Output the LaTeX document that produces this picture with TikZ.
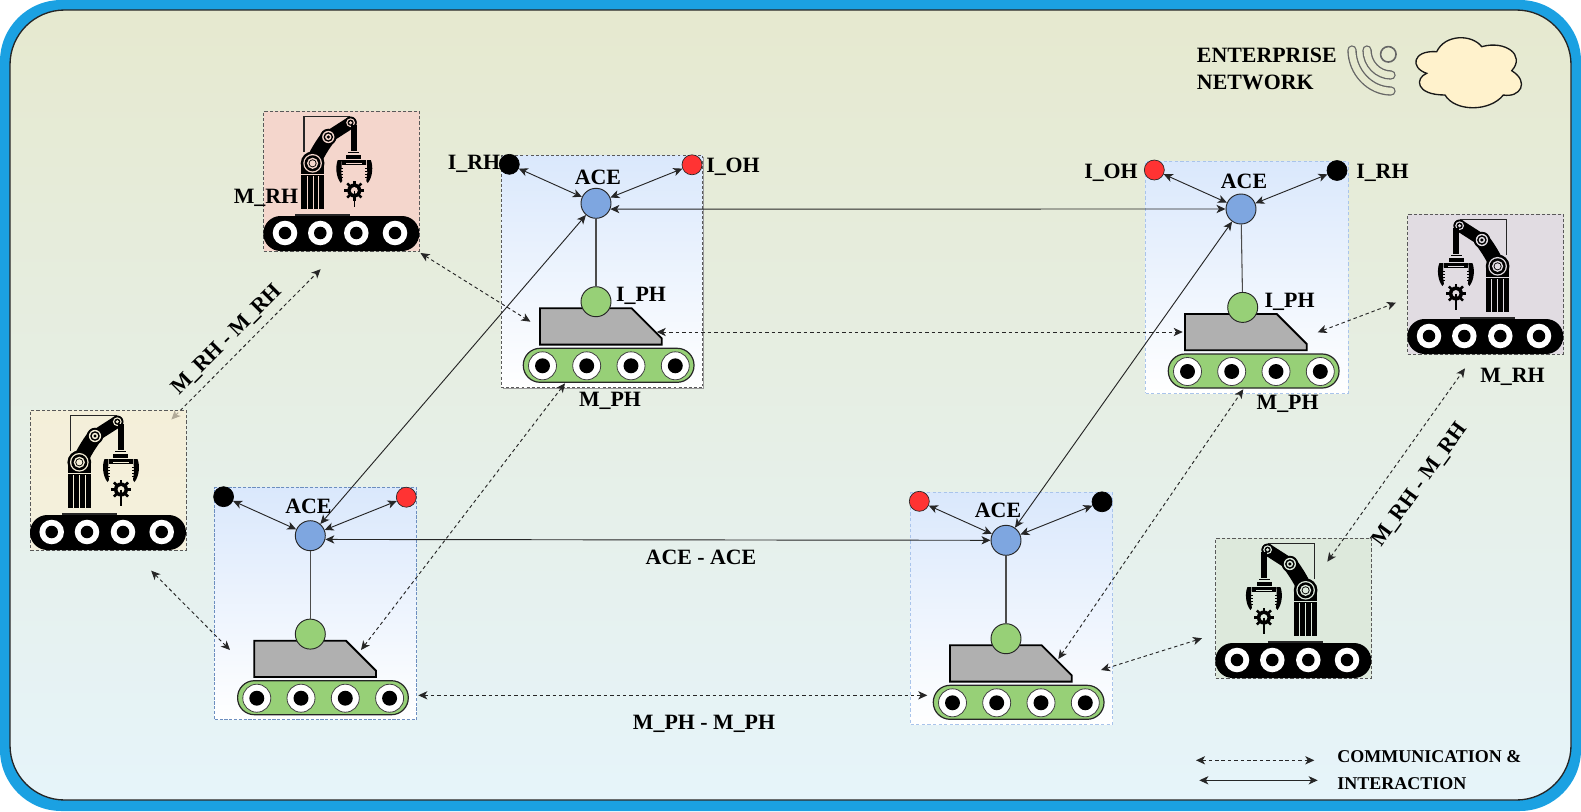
\documentclass[tikz,border=0pt]{standalone}
\usepackage{fontspec}
\setmainfont{Liberation Serif}
\usetikzlibrary{arrows.meta,calc}
\definecolor{acefill}{HTML}{7EA6E0}
\definecolor{redfill}{HTML}{FF3333}
\definecolor{greenfill}{HTML}{97D077}
\definecolor{bodyfill}{HTML}{B0B0B0}
\definecolor{skyblue}{HTML}{1BA1E2}
\definecolor{bgtop}{HTML}{E6E9CF}
\definecolor{bgbot}{HTML}{E6F4FA}
\definecolor{cellblue}{HTML}{DAE8FC}
\definecolor{cloudfill}{HTML}{FFF2CC}
\definecolor{dashblue}{HTML}{A9C4EB}
\definecolor{dashsteel}{HTML}{6C8EBF}
\tikzset{
  lbl/.style={font=\fontsize{16.4}{18}\selectfont\bfseries,inner sep=0pt,text=black},
  leg/.style={font=\fontsize{13.5}{15}\selectfont\bfseries,inner sep=0pt,anchor=base west},
  aceball/.style={circle,draw=black!85,line width=.7pt,fill=acefill,minimum size=22.5pt,inner sep=0pt},
  greenball/.style={circle,draw=black!85,line width=.7pt,fill=greenfill,minimum size=22.5pt,inner sep=0pt},
  blackball/.style={circle,draw=black,fill=black,line width=.5pt,minimum size=15pt,inner sep=0pt},
  redball/.style={circle,draw=black!85,fill=redfill,line width=.5pt,minimum size=15pt,inner sep=0pt},
  cellbox/.style={rectangle,anchor=north west,inner sep=0pt,top color=cellblue,bottom color=white},
  robotbox/.style={rectangle,anchor=north west,inner sep=0pt,minimum width=117pt,minimum height=105pt,draw=black!65,line width=.6pt,dash pattern=on 2.5pt off 1.5pt},
  tipstyle/.style={{Stealth[length=6.8pt,width=6.2pt,inset=1.9pt]}-{Stealth[length=6.8pt,width=6.2pt,inset=1.9pt]}},
  solidlink/.style={tipstyle,draw=black!85,line width=.7pt},
  dashlink/.style={tipstyle,draw=black!85,line width=.7pt,dash pattern=on 2.6pt off 2.2pt},
  plainlink/.style={draw=black!70,line width=.8pt},
}
% arm of a robot, box coordinates in pixels; colour rb is the box colour
\newcommand{\armdraw}{%
  \draw[black!85,line width=1pt] (40.7,41)--(40.7,5.7)--(87,5.7);
  \fill[black] (38,98) rectangle (61,52);
  \fill[black] (49.3,52.3) circle[radius=8.9pt];
  \draw[black,line width=11.5pt,line cap=round] (49.3,52.3) .. controls (54,42) and (59,34) .. (65,26);
  \draw[black,line width=9pt,line cap=round] (65,26) -- (87.3,11.7);
  \fill[rb] (38,63.2) rectangle (61,64.4);
  \foreach \sx in {43.4,49.2,55} {\fill[rb] (\sx,65) rectangle ($(\sx,98)+(1,0)$);}
  \fill[rb] (49.3,52.3) circle[radius=7pt];
  \fill[black] (49.3,52.3) circle[radius=6pt];
  \fill[rb] (49.3,52.3) circle[radius=4.2pt];
  \fill[black] (49.3,52.3) circle[radius=3pt];
  \fill[rb] (49.3,52.3) circle[radius=2.3pt];
  \fill[black] (65,26) circle[radius=6.2pt];
  \fill[rb] (65,26) circle[radius=4.6pt];
  \fill[black] (65,26) circle[radius=3.6pt];
  \fill[rb] (65,26) circle[radius=2.4pt];
  \fill[black] (65,26) circle[radius=1.3pt];
  \fill[black] (87.3,11.7) circle[radius=4.6pt];
  \fill[rb] (87.3,11.7) circle[radius=3.3pt];
  \fill[black] (87.3,11.7) circle[radius=2.3pt];
  \fill[rb] (87.3,11.7) circle[radius=1.3pt];
  \fill[black] (87.8,14) rectangle (94,40);
  \fill[black] (85,40.5) rectangle (96,42.3);
  \fill[black] (82.7,44) rectangle (98,47.6);
  \fill[black] (79,49) rectangle (103,54);
  \fill[rb] (83,52) rectangle (99,53);
  \fill[black] (74.5,49)--(78.5,49)--(78,62)--(79,70)--(77.5,72) .. controls (72.5,66) and (72,55) .. (74.5,49) -- cycle;
  \fill[black] (107.5,49)--(103.5,49)--(104,62)--(103,70)--(104.5,72) .. controls (109.5,66) and (110,55) .. (107.5,49) -- cycle;
  \foreach \ty in {57,60,63,66} {
    \draw[black,line width=.6pt] (78,\ty) -- (80,\ty);
    \draw[black,line width=.6pt] (104,\ty) -- (102,\ty);
  }
  \foreach \ga in {0,45,...,315} {\draw[black,line width=1.9pt] (91,79.5) -- ++(\ga:10);}
  \fill[black] (91,79.5) circle[radius=5.3pt];
  \fill[rb] (91,79.5) circle[radius=2.6pt];
  \draw[black,line width=1pt] (91,79.5) -- (91,96);
  \draw[black!85,line width=1.2pt] (32,103.7) -- (87,103.7);
}
% crawler of a robot
\newcommand{\crawler}{%
  \fill[black,rounded corners=13pt] (0,105) rectangle (156,140);
  \foreach \wx in {21.7,57,93,131.7} {
    \fill[white] (\wx,122) circle[radius=9.2pt];
    \fill[black] (\wx,122) circle[radius=4.7pt];
  }
}
\newcommand{\robotplain}[2]{\begin{scope}[shift={(#1,#2)}]\armdraw\crawler\end{scope}}
\newcommand{\robotflip}[2]{\begin{scope}[shift={(#1,#2)}]\crawler\begin{scope}[shift={(139.6,0)},xscale=-1]\armdraw\end{scope}\end{scope}}
% mobile platform cell, origin at its ACE; #1 prefix, #2 #3 position, #4 left top ball style, #5 right top ball style, #6 shift of green ball
\newcommand{\acecell}[6]{%
  \begin{scope}[shift={(#2,#3)}]
    \draw[black,line width=1.4pt,fill=bodyfill] (-56,105)--(35.7,105)--(65.7,135)--(65.7,141.3)--(-56,141.3)--cycle;
    \draw[black!85,line width=.9pt,fill=greenfill,rounded corners=12.6pt] (-72.7,145) rectangle (98,179);
    \foreach \wx in {-53.5,-9.3,35,79.3} {
      \draw[black!75,line width=.6pt,fill=white] (\wx,162.5) circle[radius=10.5pt];
      \fill[black] (\wx,162.5) circle[radius=5.6pt];
    }
    \node[aceball] (#1ace) at (0,0) {};
    \node[greenball] (#1green) at (#6,98.4) {};
    \node[#4] (#1left) at (-86.7,-39) {};
    \node[#5] (#1right) at (96,-38.5) {};
  \end{scope}
  \draw[plainlink] (#1ace) -- (#1green);
  \draw[solidlink] (#1ace) -- (#1left);
  \draw[solidlink] (#1ace) -- (#1right);
}
\begin{document}
\begin{tikzpicture}[x=.75pt,y=-.75pt]
\useasboundingbox (0,0) rectangle (1581,811);
\fill[skyblue,rounded corners=46pt] (0,0) rectangle (1581,811);
\draw[black!85,line width=1pt,top color=bgtop,bottom color=bgbot,rounded corners=41pt] (10,10) rectangle (1571,800);

% enterprise network
\node[lbl,anchor=base west] (ent1) at (1196.7,62.7) {ENTERPRISE};
\node[lbl,anchor=base west] (ent2) at (1196.7,89) {NETWORK};
\draw[black!60,line width=1.2pt] (1388.3,54.3) circle[radius=5.8pt];
\draw[black!60,line width=7pt,line cap=round] (1367,50) .. controls (1367,64) and (1378,75) .. (1391,75);
\draw[bgtop,line width=5pt,line cap=round] (1367,50) .. controls (1367,64) and (1378,75) .. (1391,75);
\draw[black!60,line width=7pt,line cap=round] (1352,50) .. controls (1352,72) and (1370,91) .. (1391,91);
\draw[bgtop,line width=5pt,line cap=round] (1352,50) .. controls (1352,72) and (1370,91) .. (1391,91);
\draw[black!90,line width=1pt,fill=cloudfill] (1426.7,73.3) .. controls (1410,68) and (1412,50) .. (1436.7,51.7)
  .. controls (1445,34) and (1472,34) .. (1481.7,46.7)
  .. controls (1505,40) and (1526,55) .. (1511.7,70.7)
  .. controls (1530,82) and (1520,98) .. (1503.3,95)
  .. controls (1490,112) and (1455,112) .. (1445,95)
  .. controls (1415,95) and (1415,78) .. (1426.7,73.3) -- cycle;

% free ends of the dashed connectors
\coordinate (d1a) at (171.4,419.5); \coordinate (d1b) at (320.6,269.2);
\coordinate (d2a) at (420.5,253);   \coordinate (d2b) at (530.4,321.7);
\coordinate (d3a) at (1317.7,332.3);\coordinate (d3b) at (1396,302.7);
\coordinate (d4a) at (1327.3,561.7);\coordinate (d4b) at (1465,368.3);
\coordinate (d5a) at (151.2,570.7); \coordinate (d5b) at (230,650);
\coordinate (d6a) at (361,650);     \coordinate (d6b) at (565,383.3);
\coordinate (d7a) at (656.7,332);   \coordinate (d7b) at (1182.7,332);
\coordinate (d8a) at (1058.3,659);  \coordinate (d8b) at (1243.3,389.3);
\coordinate (d9a) at (1101,670);    \coordinate (d9b) at (1202,638.3);
\coordinate (d10a) at (418.3,695.3);\coordinate (d10b) at (927.3,695.3);
\coordinate (lg1a) at (1196,760.3); \coordinate (lg1b) at (1314.3,760.3);
\coordinate (lg2a) at (1199.3,780.3);\coordinate (lg2b) at (1317.7,780.3);

% robots
\node[robotbox,fill={rgb,255:red,244;green,214;blue,204}] (rob1) at (263.3,111) {};
\colorlet{rb}{rgb,255:red,244;green,214;blue,204}
\robotplain{263.3}{111}
\node[robotbox,fill={rgb,255:red,225;green,220;blue,226}] (rob2) at (1407.3,214) {};
\colorlet{rb}{rgb,255:red,225;green,220;blue,226}
\robotflip{1407.3}{214}
\node[robotbox,fill={rgb,255:red,221;green,233;blue,220}] (rob4) at (1215.3,538) {};
\colorlet{rb}{rgb,255:red,221;green,233;blue,220}
\robotflip{1215.3}{538}
\draw[dashlink] (d1a) -- (d1b);
\node[robotbox,draw opacity=1,fill opacity=.65,fill={rgb,255:red,253;green,240;blue,212}] (rob3) at (30,410) {};
\colorlet{rb}{rgb,255:red,245;green,239;blue,216}
\robotplain{30}{410}

% platform cells
\fill[black!40] (503,157) rectangle (704.3,389);
\node[cellbox,minimum width=151.2pt,minimum height=174pt,draw=black!65,line width=.8pt,dash pattern=on 2.2pt off 1.6pt] (boxA) at (500.7,155) {};
\acecell{A}{596}{203.3}{blackball}{redball}{0}
\node[cellbox,minimum width=151.9pt,minimum height=174pt,draw=dashblue,line width=1pt,dash pattern=on 2.4pt off 1.8pt] (boxT) at (1145,160.7) {};
\acecell{T}{1241}{209}{redball}{blackball}{1.7}
\node[cellbox,minimum width=151.5pt,minimum height=174pt,draw=dashsteel,line width=.6pt,dash pattern=on 2.4pt off 1.2pt] (boxL) at (214.3,487.3) {};
\acecell{L}{310.3}{535.7}{blackball}{redball}{0}
\node[cellbox,minimum width=151.3pt,minimum height=174pt,draw=dashblue,line width=1pt,dash pattern=on 2.4pt off 1.8pt] (boxR) at (910,492) {};
\acecell{R}{1006}{540.3}{redball}{blackball}{0}

% solid connectors
\draw[solidlink] (Aace.-22) -- (Tace.west);
\draw[solidlink] (Lace.-14) -- (Race.west);
\draw[solidlink] (Lace) -- (Aace);
\draw[solidlink] (Race) -- (Tace);

% dashed connectors
\draw[dashlink] (d2a) -- (d2b);
\draw[dashlink] (d3a) -- (d3b);
\draw[dashlink] (d4a) -- (d4b);
\draw[dashlink] (d5a) -- (d5b);
\draw[dashlink] (d6a) -- (d6b);
\draw[dashlink] (d7a) -- (d7b);
\draw[dashlink] (d8a) -- (d8b);
\draw[dashlink] (d9a) -- (d9b);
\draw[dashlink] (d10a) -- (d10b);

% legend
\draw[dashlink] (lg1a) -- (lg1b);
\draw[solidlink] (lg2a) -- (lg2b);
\node[leg] (legA) at (1337,762.7) {COMMUNICATION \&};
\node[leg] (legB) at (1337,789) {INTERACTION};

% labels
\node[lbl] (t1) at (474,164) {I\_RH};
\node[lbl] (t2) at (733,167) {I\_OH};
\node[lbl] (t3) at (598,177) {ACE};
\node[lbl] (t4) at (641,295.5) {I\_PH};
\node[lbl] (t5) at (610,401) {M\_PH};
\node[lbl] (t6) at (266,198) {M\_RH};
\node[lbl] (t7) at (1111,172.4) {I\_OH};
\node[lbl] (t8) at (1244,181.5) {ACE};
\node[lbl] (t9) at (1382.4,172.4) {I\_RH};
\node[lbl] (t10) at (1289.6,301.5) {I\_PH};
\node[lbl] (t11) at (1287.6,404.3) {M\_PH};
\node[lbl] (t12) at (1512.5,377) {M\_RH};
\node[lbl] (t13) at (308.5,506) {ACE};
\node[lbl] (t14) at (998,510) {ACE};
\node[lbl] (t15) at (701,557.6) {ACE - ACE};
\node[lbl] (t16) at (704,724) {M\_PH - M\_PH};
\node[lbl,rotate=45] (t17) at (227,340) {M\_RH - M\_RH};
\node[lbl,rotate=54] (t18) at (1420,485) {M\_RH - M\_RH};
\end{tikzpicture}
\end{document}
